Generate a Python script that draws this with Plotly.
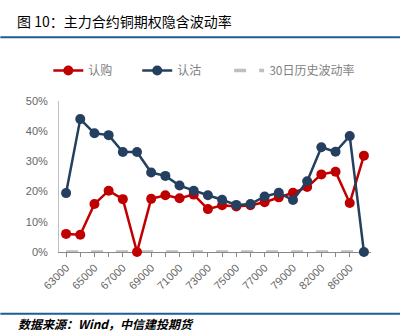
import plotly.graph_objects as go

strikes = ["63000", "64000", "65000", "66000", "67000", "68000", "69000", "70000",
           "71000", "72000", "73000", "74000", "75000", "76000", "77000", "78000",
           "79000", "80000", "82000", "84000", "86000", "88000"]
call_iv = [6.0, 5.7, 15.9, 20.3, 17.5, 0.0, 17.6, 18.8, 17.8, 19.0, 14.2, 15.5,
           15.1, 15.5, 16.5, 18.1, 19.6, 21.5, 25.7, 26.6, 16.2, 31.9]
put_iv = [19.5, 44.0, 39.3, 38.7, 33.1, 33.1, 26.3, 25.2, 22.0, 20.3, 18.8, 17.3,
          15.6, 15.9, 18.4, 19.6, 17.2, 23.4, 34.7, 33.2, 38.4, 0.0]
hv30 = [0.0] * len(strikes)
tick_text = [s if i % 2 == 0 else "" for i, s in enumerate(strikes)]

W, H = 413, 333
L, R, T, B = 58.7, 42, 100.7, 80.7
pw, ph = W - L - R, H - T - B

def px_x(x):
    return (x - L) / pw

def px_y(y):
    return (H - B - y) / ph

fig = go.Figure()
fig.add_trace(go.Scatter(
    x=strikes, y=[v / 100 for v in hv30], name="30日历史波动率", mode="lines",
    line=dict(color="#BFBFBF", width=3.5, dash="12px,13px"),
    cliponaxis=False, legend="legend3"))
fig.add_trace(go.Scatter(
    x=strikes, y=[v / 100 for v in call_iv], name="认购", mode="lines+markers",
    line=dict(color="#C00000", width=2.5), marker=dict(size=10, color="#C00000"),
    cliponaxis=False, legend="legend"))
fig.add_trace(go.Scatter(
    x=strikes, y=[v / 100 for v in put_iv], name="认沽", mode="lines+markers",
    line=dict(color="#243F60", width=2.5), marker=dict(size=10, color="#243F60"),
    cliponaxis=False, legend="legend2"))

font_tick = dict(family="Liberation Sans, Arial, sans-serif", size=11, color="#666666")
leg_font = dict(family="Noto Sans CJK SC", size=12, color="#7F7F7F")

def leg(xpx):
    return dict(orientation="h", x=px_x(xpx), xanchor="left", y=px_y(70), yanchor="middle",
                font=leg_font, bgcolor="rgba(0,0,0,0)")

fig.update_layout(
    width=W, height=H,
    margin=dict(l=L, r=R, t=T, b=B),
    paper_bgcolor="white", plot_bgcolor="white",
    showlegend=True,
    legend=leg(48), legend2=leg(137), legend3=leg(229),
    xaxis=dict(type="category", tickmode="array", tickvals=strikes, ticktext=tick_text,
               tickangle=-45, tickfont=font_tick, showgrid=False,
               showline=True, linecolor="#898989", linewidth=1,
               ticks="outside", ticklen=4, tickcolor="#898989",
               range=[-0.5, len(strikes) - 0.5], layer="below traces", zeroline=False),
    yaxis=dict(range=[0, 0.5], dtick=0.1, tickformat=".0%", tickfont=font_tick,
               showgrid=False, showline=True, linecolor="#BFBFBF", linewidth=1,
               zeroline=False, ticks="", ticklabelstandoff=8, layer="below traces"),
    annotations=[
        dict(text="图 10：主力合约铜期权隐含波动率", xref="paper", yref="paper",
             x=px_x(15), y=px_y(20), xanchor="left", yanchor="middle", showarrow=False,
             font=dict(family="Noto Sans CJK SC", size=14, color="#000000")),
        dict(text="<b><i>数据来源：Wind，中信建投期货</i></b>", xref="paper", yref="paper",
             x=px_x(16), y=px_y(324), xanchor="left", yanchor="middle", showarrow=False,
             font=dict(family="Noto Sans CJK SC", size=12, color="#000000")),
    ],
    shapes=[
        dict(type="line", xref="paper", yref="paper", x0=px_x(0), x1=px_x(400),
             y0=px_y(36.7), y1=px_y(36.7), line=dict(color="#1F5C99", width=2)),
        dict(type="line", xref="paper", yref="paper", x0=px_x(0), x1=px_x(400),
             y0=px_y(314.3), y1=px_y(314.3), line=dict(color="#1F5C99", width=2)),
    ],
)

fig.write_html("out.html")
